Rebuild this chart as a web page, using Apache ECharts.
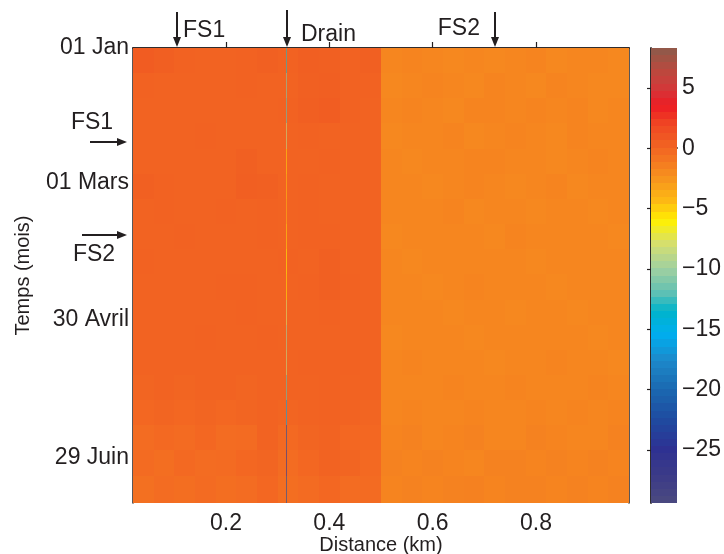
<!DOCTYPE html>
<html><head><meta charset="utf-8">
<script src="https://cdn.jsdelivr.net/npm/echarts@6/dist/echarts.min.js"></script>
<style>html,body{margin:0;padding:0;background:#fff}#c{width:724px;height:554px}</style>
</head><body><div id="c"></div>
<script>
// ---------------- data ----------------
const distanceKm = [0.04,0.08,0.12,0.16,0.20,0.24,0.28,0.32,0.36,0.40,0.44,0.48,
                    0.52,0.56,0.60,0.64,0.68,0.72,0.76,0.80,0.84,0.88,0.92,0.96];
const rowStartDay = [0,11,22,33,44,55,66,77,88,99,110,121,132,143,154,165,176,187];
const lastDay = 199;
const values = [
 [0.6,0.4,0.2,0.1,0.1,0.2,0.3,0.2,0.4,0.3,0.2,0.3, -1.8,-1.7,-1.8,-1.9,-1.8,-1.9,-1.8,-1.7,-1.9,-1.8,-1.8,-1.9],
 [0.2,0.1,0.1,0.1,0.1,0.2,0.1,0.1,0.3,0.4,0.2,0.2, -1.9,-1.8,-1.7,-1.8,-1.9,-1.7,-1.8,-1.9,-1.7,-1.8,-1.9,-1.9],
 [0.1,0.1,0.1,0.1,0.1,0.1,0.1,0.2,0.4,0.5,0.2,0.1, -1.8,-1.7,-1.8,-1.9,-1.7,-1.7,-1.8,-1.7,-1.8,-1.7,-1.9,-1.8],
 [0.1,0.1,0.1,0.2,0.1,0.1,0.1,0.1,0.2,0.1,0.1,0.1, -1.9,-1.8,-1.8,-1.7,-1.9,-1.8,-1.7,-1.8,-1.9,-1.7,-1.8,-1.8],
 [0.1,0.1,0.1,0.1,0.1,0.3,0.1,0.1,0.1,0.2,0.1,0.1, -1.8,-1.9,-1.8,-1.8,-1.7,-1.7,-1.8,-1.8,-1.9,-1.8,-1.7,-1.8],
 [0.3,0.2,0.1,0.1,0.1,0.4,0.3,0.1,0.2,0.1,0.1,0.1, -1.8,-1.8,-1.9,-1.8,-1.7,-1.8,-1.9,-1.8,-1.7,-1.9,-1.8,-1.8],
 [0.1,0.2,0.1,0.1,0.2,0.1,0.2,0.1,0.2,0.1,0.1,0.1, -1.8,-1.8,-1.8,-1.7,-1.9,-1.8,-1.8,-1.9,-1.8,-1.8,-1.9,-1.8],
 [0.1,0.1,0.2,0.1,0.1,0.1,0.2,0.1,0.2,0.2,0.1,0.1, -1.9,-1.8,-1.8,-1.8,-1.8,-1.9,-1.7,-1.8,-1.8,-1.8,-1.8,-1.9],
 [0.2,0.1,0.1,0.1,0.1,0.1,0.1,0.2,0.1,0.3,0.1,0.1, -1.8,-1.9,-1.8,-1.8,-1.8,-1.8,-1.8,-1.9,-1.8,-1.8,-1.8,-1.8],
 [0.1,0.1,0.1,0.1,0.2,0.2,0.1,0.1,0.2,0.3,0.2,0.1, -1.8,-1.8,-1.9,-1.8,-1.7,-1.8,-1.8,-1.8,-1.9,-1.8,-1.8,-1.8],
 [0.1,0.1,0.1,0.1,0.1,0.2,0.1,0.1,0.1,0.2,0.1,0.1, -1.8,-1.8,-1.8,-1.9,-1.8,-1.8,-1.9,-1.8,-1.8,-1.9,-1.8,-1.8],
 [0.1,0.1,0.1,0.2,0.1,0.1,0.2,0.1,0.1,0.1,0.1,0.1, -1.9,-1.8,-1.8,-1.8,-1.9,-1.8,-1.8,-1.8,-1.8,-1.8,-1.9,-1.8],
 [0.1,0.1,0.1,0.1,0.1,0.1,0.1,0.1,0.2,0.2,0.2,0.1, -1.8,-1.7,-1.8,-1.8,-1.8,-1.9,-1.8,-1.8,-1.7,-1.8,-1.8,-1.9],
 [0.0,0.1,0.0,0.1,0.1,0.0,0.1,0.1,0.1,0.2,0.1,0.1, -1.8,-1.8,-1.8,-1.7,-1.8,-1.8,-1.7,-1.8,-1.8,-1.8,-1.7,-1.8],
 [-0.1,0.0,-0.1,0.0,-0.1,0.0,0.1,0.0,0.1,0.2,0.1,0.0, -1.8,-1.7,-1.8,-1.8,-1.7,-1.8,-1.8,-1.7,-1.8,-1.7,-1.8,-1.7],
 [-0.4,-0.2,-0.3,-0.1,-0.4,-0.3,0.1,-0.2,0.0,0.1,-0.1,-0.1, -1.7,-1.6,-1.8,-1.7,-1.6,-1.8,-1.8,-1.6,-1.7,-1.8,-1.8,-1.6],
 [-0.3,-0.5,-0.2,-0.4,-0.3,-0.1,0.0,-0.4,-0.1,0.1,0.0,-0.2, -1.6,-1.7,-1.6,-1.7,-1.8,-1.6,-1.6,-1.7,-1.6,-1.7,-1.6,-1.7],
 [-0.6,-0.4,-0.5,-0.3,-0.5,-0.4,-0.1,-0.5,-0.3,-0.1,-0.4,-0.3, -1.7,-1.6,-1.7,-1.6,-1.5,-1.7,-1.6,-1.6,-1.7,-1.6,-1.7,-1.6]
];
const drainKm = 0.318;
const drainValues = [-13,-11,-12,-9,-5,-4.5,-4,-5,-6,-5.5,-8,-10,-9,-12,-16,-22,-24,-22];
const dateTickDays = [0,59,119,179];
const dateTickLabels = ['01 Jan','01 Mars','30 Avril','29 Juin'];
const distTicks = [0.2,0.4,0.6,0.8];
const cbTicks = [-25,-20,-15,-10,-5,0,5];
const cMin = -29.4, cMax = 8.3;
const topMarkers = [{label:'FS1', km:0.105},{label:'Drain', km:0.318},{label:'FS2', km:0.72}];
const leftMarkers = [{label:'FS1', day:41},{label:'FS2', day:82}];

// ---------------- styling ----------------
const cellKm = 0.04;
const drainWidthKm = 0.002;
const FONT = "'Liberation Sans', Arial, Helvetica, sans-serif";
const INK = '#231f20';
const TICKFS = 23;
const cmapStops = [
 [-29.4,'#4b4a7f'],[-27,'#3b3a88'],[-25,'#2e3192'],[-22.5,'#1f4aa0'],[-20,'#1b69b0'],
 [-17.5,'#1c8acb'],[-15.5,'#00aeef'],[-13.5,'#00b4cb'],[-12,'#5ec0b4'],[-10,'#a0d0a0'],
 [-8,'#d4de72'],[-6,'#fff200'],[-4.5,'#fdbb13'],[-2.5,'#f7931e'],[0,'#f26522'],
 [2,'#ef4523'],[3.5,'#ed1c24'],[5,'#d2393a'],[6.5,'#b84a3e'],[8.3,'#8c5b4b']
];
function hex2rgb(h){return [1,3,5].map(i=>parseInt(h.substr(i,2),16));}
function cmap(v){
  for(let i=0;i<cmapStops.length-1;i++){
    const [a,ca]=cmapStops[i],[b,cb]=cmapStops[i+1];
    if(v<=b||i===cmapStops.length-2){
      const t=Math.max(0,Math.min(1,(v-a)/(b-a)));
      const A=hex2rgb(ca),B=hex2rgb(cb);
      return 'rgb('+A.map((x,k)=>Math.round(x+(B[k]-x)*t)).join(',')+')';
    }
  }
}
const NS = 120;
const sampledColors = [];
for(let i=0;i<NS;i++){ sampledColors.push(cmap(cMin+(cMax-cMin)*i/(NS-1))); }

// ---------------- build series data ----------------
const heatData = [];
values.forEach((row,r)=>{
  const d0 = rowStartDay[r], d1 = r+1<rowStartDay.length ? rowStartDay[r+1] : lastDay;
  row.forEach((v,c)=>{
    heatData.push([distanceKm[c]-cellKm/2, distanceKm[c]+cellKm/2, d0, d1, v]);
  });
});
const drainData = drainValues.map((v,r)=>{
  const d0 = rowStartDay[r], d1 = r+1<rowStartDay.length ? rowStartDay[r+1] : lastDay;
  return [drainKm-drainWidthKm/2, drainKm+drainWidthKm/2, d0, d1, v];
});
const NB = 64;
const cbData = [];
for(let i=0;i<NB;i++){
  const lo = cMin+(cMax-cMin)*i/NB, hi = cMin+(cMax-cMin)*(i+1)/NB;
  cbData.push([0,1,lo,hi,(lo+hi)/2]);
}

function makeRect(opacity){
  return function(params, api){
    const p0 = api.coord([api.value(0), api.value(2)]);
    const p1 = api.coord([api.value(1), api.value(3)]);
    let x0 = Math.round(Math.min(p0[0],p1[0])), x1 = Math.round(Math.max(p0[0],p1[0]));
    const y0 = Math.round(Math.min(p0[1],p1[1])), y1 = Math.round(Math.max(p0[1],p1[1]));
    if (x1 - x0 < 1) x1 = x0 + 1;
    return {type:'rect', shape:{x:x0, y:y0, width:x1-x0, height:y1-y0},
            style:{fill: api.visual('color'), opacity: opacity}};
  };
}

const minus = v => v < 0 ? '\u2212' + Math.abs(v) : String(v);
const txt = {fontFamily: FONT, color: INK};
const lineSty = {show:true, lineStyle:{color:INK, width:1.5}};
const tickIn = (vals, len) => ({show:true, inside:true, length:len, customValues:vals, lineStyle:{color:INK, width:1.2}});

const chart = echarts.init(document.getElementById('c'), null, {renderer:'canvas'});
const GL = 133, GT = 48, GW = 496, GH = 455;
chart.setOption({
  animation:false,
  backgroundColor:'#fff',
  textStyle:{fontFamily:FONT},
  grid:[
    {left:GL, top:GT, width:GW, height:GH, show:false, containLabel:false, outerBoundsMode:'none'},
    {left:651, top:GT, width:26, height:GH, show:false, containLabel:false, outerBoundsMode:'none'}
  ],
  xAxis:[
    {type:'value', gridIndex:0, position:'bottom', min:0.02, max:0.98,
     axisLine:lineSty, axisTick:tickIn(distTicks,6), splitLine:{show:false},
     axisLabel:Object.assign({customValues:distTicks, fontSize:TICKFS, margin:9, formatter:v=>v.toFixed(1)}, txt),
     name:'Distance (km)', nameLocation:'middle', nameGap:32, nameMoveOverlap:false,
     nameTextStyle:Object.assign({fontSize:20, verticalAlign:'top'}, txt)},
    {type:'value', gridIndex:0, position:'top', min:0.02, max:0.98,
     axisLine:lineSty, axisTick:tickIn(distTicks,6), splitLine:{show:false}, axisLabel:{show:false}},
    {type:'value', gridIndex:1, position:'bottom', min:0, max:1,
     axisLine:lineSty, axisTick:{show:false}, splitLine:{show:false}, axisLabel:{show:false}},
    {type:'value', gridIndex:1, position:'top', min:0, max:1,
     axisLine:lineSty, axisTick:{show:false}, splitLine:{show:false}, axisLabel:{show:false}}
  ],
  yAxis:[
    {type:'value', gridIndex:0, position:'left', inverse:true, min:0, max:lastDay,
     axisLine:lineSty, axisTick:tickIn(dateTickDays,6), splitLine:{show:false},
     axisLabel:Object.assign({customValues:dateTickDays, fontSize:TICKFS, margin:4,
        formatter:v=>dateTickLabels[dateTickDays.indexOf(v)]||''}, txt),
     name:'Temps (mois)', nameLocation:'middle', nameGap:100, nameRotate:90, nameMoveOverlap:false,
     nameTextStyle:Object.assign({fontSize:20}, txt)},
    {type:'value', gridIndex:0, position:'right', inverse:true, min:0, max:lastDay,
     axisLine:lineSty, axisTick:tickIn(dateTickDays,6), splitLine:{show:false}, axisLabel:{show:false}},
    {type:'value', gridIndex:1, position:'right', min:cMin, max:cMax,
     axisLine:lineSty, axisTick:tickIn(cbTicks,4), splitLine:{show:false},
     axisLabel:Object.assign({customValues:cbTicks, fontSize:TICKFS, margin:5, formatter:minus}, txt)},
    {type:'value', gridIndex:1, position:'left', min:cMin, max:cMax,
     axisLine:lineSty, axisTick:tickIn(cbTicks,4), splitLine:{show:false}, axisLabel:{show:false}}
  ],
  visualMap:{type:'continuous', show:false, min:cMin, max:cMax, dimension:4,
             seriesIndex:[0,1,2], inRange:{color:sampledColors}},
  series:[
    {type:'custom', xAxisIndex:0, yAxisIndex:0, renderItem:makeRect(1), data:heatData,
     encode:{x:[0,1], y:[2,3]}, z:1, silent:true},
    {type:'custom', xAxisIndex:0, yAxisIndex:0, renderItem:makeRect(0.6), data:drainData,
     encode:{x:[0,1], y:[2,3]}, z:2, silent:true},
    {type:'custom', xAxisIndex:2, yAxisIndex:2, renderItem:makeRect(1), data:cbData,
     encode:{x:[0,1], y:[2,3]}, z:1, silent:true}
  ]
});

// annotations (arrows) placed from data coordinates
const gfx = [];
const textStyle = (s, x, y, align) => ({type:'text', z:100, style:{text:s, x:x, y:y, align:align, verticalAlign:'middle', font:TICKFS+"px "+FONT, fill:INK}});
function arrow(x1,y1,x2,y2){
  const ang = Math.atan2(y2-y1, x2-x1), L = 10, W = 4;
  const bx = x2 - L*Math.cos(ang), by = y2 - L*Math.sin(ang);
  const nx = -Math.sin(ang)*W, ny = Math.cos(ang)*W;
  gfx.push({type:'line', z:100, shape:{x1:x1,y1:y1,x2:bx,y2:by}, style:{stroke:INK, lineWidth:2}});
  gfx.push({type:'polygon', z:100, shape:{points:[[bx+nx,by+ny],[x2,y2],[bx-nx,by-ny]]}, style:{fill:INK}});
}
topMarkers.forEach(m=>{
  const px = Math.round(chart.convertToPixel({xAxisIndex:0}, m.km));
  if (m.label === 'FS1') { arrow(px, GT-36, px, GT-1); gfx.push(textStyle(m.label, px+6, GT-17, 'left')); }
  else if (m.label === 'Drain') { arrow(px, GT-38, px, GT-1); gfx.push(textStyle(m.label, px+14, GT-13, 'left')); }
  else { arrow(px, GT-36, px, GT-1); gfx.push(textStyle(m.label, px-15, GT-19, 'right')); }
});
leftMarkers.forEach((m,i)=>{
  const py = Math.round(chart.convertToPixel({yAxisIndex:0}, m.day));
  if (i === 0) { arrow(GL-43, py, GL-6, py); gfx.push(textStyle(m.label, GL-41, py-19, 'center')); }
  else { arrow(GL-51, py, GL-6, py); gfx.push(textStyle(m.label, GL-39, py+20, 'center')); }
});
chart.setOption({graphic: gfx});
</script>
</body></html>
